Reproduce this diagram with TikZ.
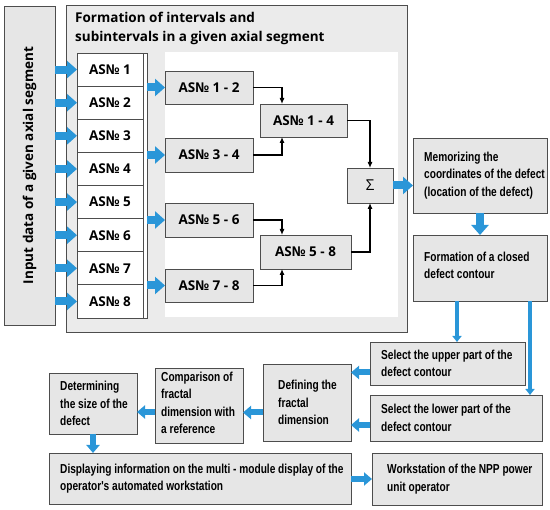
\documentclass[tikz,border=0pt]{standalone}
\usepackage{fontspec}
\setmainfont{Open Sans}
\newfontfamily\narrowfont{Liberation Sans}[FakeStretch=0.78]
\usetikzlibrary{positioning,arrows.meta,calc}
\definecolor{boxgray}{HTML}{E6E6E6}
\definecolor{panelgray}{HTML}{EBEBEB}
\definecolor{edge}{HTML}{4D4D4D}
\definecolor{flowblue}{HTML}{2A96D8}
\newcommand{\headfont}{\bfseries\fontsize{13.5}{19}\selectfont}
\newcommand{\notefont}{\narrowfont\bfseries\fontsize{13}{17.5}\selectfont}

\begin{document}
\begin{tikzpicture}[x=1pt, y=-1pt,
    box/.style={draw=edge, line width=0.9pt, fill=boxgray, inner sep=0pt, outer sep=0pt, anchor=north west},
    asbox/.style={box, fill=white, minimum width=66pt, minimum height=33.125pt, font=\headfont},
    pairbox/.style={box, font=\headfont},
    note/.style={font=\notefont, align=left, inner sep=0pt, anchor=west},
    flow/.style={draw=flowblue, line width=8pt, -{Triangle[length=10pt,width=17pt]}},
    smallflow/.style={draw=flowblue, line width=6pt, -{Triangle[length=8pt,width=13pt]}},
    thinflow/.style={draw=flowblue, line width=3.5pt, -{Triangle[length=6pt,width=9pt]}},
    conn/.style={draw=black, line width=1.1pt, -{Latex[length=6pt,width=5pt]}}
]
    \useasboundingbox (0,0) rectangle (550,510);

    % input column
    \node[box, minimum width=51pt, minimum height=319pt] (input) at (4,6) {};
    \node[rotate=90, font=\headfont] (inputtxt) at (input.center) {Input data of a given axial segment};

    % interval panel
    \node[box, fill=panelgray, minimum width=341pt, minimum height=327pt] (panel) at (66,5) {};
    \node[font=\headfont, align=left, inner sep=0pt, anchor=north west] (title) at (75,12)
        {Formation of intervals and\\subintervals in a given axial segment};
    \node[box, draw=none, fill=white, minimum width=233pt, minimum height=265pt] (inner) at (165,52) {};
    \node[box, fill=white, minimum width=70pt, minimum height=265pt] (col) at (77,53) {};

    \node[asbox] (as1) at (77,53) {AS№ 1};
    \node[asbox, below=0pt of as1] (as2) {AS№ 2};
    \node[asbox, below=0pt of as2] (as3) {AS№ 3};
    \node[asbox, below=0pt of as3] (as4) {AS№ 4};
    \node[asbox, below=0pt of as4] (as5) {AS№ 5};
    \node[asbox, below=0pt of as5] (as6) {AS№ 6};
    \node[asbox, below=0pt of as6] (as7) {AS№ 7};
    \node[asbox, below=0pt of as7] (as8) {AS№ 8};

    \node[pairbox, minimum width=88pt, minimum height=33pt] (p12) at (165,71) {AS№ 1 - 2};
    \node[pairbox, minimum width=88pt, minimum height=34pt] (p34) at (165,138) {AS№ 3 - 4};
    \node[pairbox, minimum width=88pt, minimum height=34pt] (p56) at (165,203) {AS№ 5 - 6};
    \node[pairbox, minimum width=88pt, minimum height=33pt] (p78) at (165,269) {AS№ 7 - 8};
    \node[pairbox, minimum width=87pt, minimum height=33pt] (q14) at (260,104) {AS№ 1 - 4};
    \node[pairbox, minimum width=91pt, minimum height=34pt] (q58) at (260,235) {AS№ 5 - 8};
    \node[box, minimum width=46pt, minimum height=35pt, font=\fontsize{15}{18}\selectfont] (sum) at (347,168) {Σ};

    % processing chain
    \node[box, minimum width=134pt, minimum height=75pt] (mem) at (413,138) {};
    \node[note] (memtxt) at ([xshift=11pt]mem.west)
        {Memorizing the\\coordinates of the defect\\(location of the defect)};
    \node[box, minimum width=134pt, minimum height=66pt] (form) at (413,235) {};
    \node[note] (formtxt) at ([xshift=11pt, yshift=2.5pt]form.west)
        {Formation of a closed\\defect contour};
    \node[box, minimum width=155pt, minimum height=43pt] (upper) at (370,342) {};
    \node[note] (uppertxt) at ([xshift=11pt]upper.west)
        {Select the upper part of the\\defect contour};
    \node[box, minimum width=172pt, minimum height=46pt] (lower) at (370,395) {};
    \node[note] (lowertxt) at ([xshift=11pt]lower.west)
        {Select the lower part of the\\defect contour};
    \node[box, minimum width=88pt, minimum height=77pt] (fractal) at (263,364) {};
    \node[note] (fractaltxt) at ([xshift=15pt]fractal.west)
        {Defining the\\fractal\\dimension};
    \node[box, minimum width=88pt, minimum height=75pt] (compare) at (155,368) {};
    \node[note] (comparetxt) at ([xshift=6pt, yshift=2.5pt]compare.west)
        {Comparison of\\fractal\\dimension with\\a reference};
    \node[box, minimum width=88pt, minimum height=61pt] (size) at (49,373) {};
    \node[note] (sizetxt) at ([xshift=11pt]size.west)
        {Determining\\the size of the\\defect};
    \node[box, minimum width=302pt, minimum height=51pt] (display) at (49,453) {};
    \node[note] (displaytxt) at ([xshift=11pt]display.west)
        {Displaying information on the multi - module display of the\\operator's automated workstation};
    \node[box, minimum width=170pt, minimum height=52pt] (station) at (372,453) {};
    \node[note] (stationtxt) at ([xshift=15pt]station.west)
        {Workstation of the NPP power\\unit operator};

    % blue flows
    \draw[flow] (input.east |- as1.west) -- (as1.west);
    \draw[flow] (input.east |- as2.west) -- (as2.west);
    \draw[flow] (input.east |- as3.west) -- (as3.west);
    \draw[flow] (input.east |- as4.west) -- (as4.west);
    \draw[flow] (input.east |- as5.west) -- (as5.west);
    \draw[flow] (input.east |- as6.west) -- (as6.west);
    \draw[flow] (input.east |- as7.west) -- (as7.west);
    \draw[flow] (input.east |- as8.west) -- (as8.west);
    \draw[flow] (col.east |- p12.west) -- (p12.west);
    \draw[flow] (col.east |- p34.west) -- (p34.west);
    \draw[flow] (col.east |- p56.west) -- (p56.west);
    \draw[flow] (col.east |- p78.west) -- (p78.west);
    \draw[flow] (sum.east) -- (sum.east -| mem.west);
    \draw[flow] (mem.south) -- (form.north);
    \draw[thinflow] ([xshift=-23pt]form.south) -- ([xshift=-23pt]form.south |- upper.north);
    \draw[thinflow] ([xshift=50pt]form.south) -- ([xshift=50pt]form.south |- lower.north);
    \draw[smallflow] ([yshift=-9pt]upper.west) -- ([yshift=-9pt]upper.west -| fractal.east);
    \draw[smallflow] ([yshift=-7pt]lower.west) -- ([yshift=-7pt]lower.west -| fractal.east);
    \draw[smallflow] ([yshift=-10pt]fractal.west) -- ([yshift=-10pt]fractal.west -| compare.east);
    \draw[smallflow] ([yshift=-6.5pt]compare.west) -- ([yshift=-6.5pt]compare.west -| size.east);
    \draw[smallflow] (size.south) -- (size.south |- display.north);
    \draw[smallflow] (display.east |- station.west) -- (station.west);

    % summation links
    \draw[conn] (p12.east) -| ([xshift=22pt]q14.north west);
    \draw[conn] (p34.east) -| ([xshift=22pt]q14.south west);
    \draw[conn] (p56.east) -| ([xshift=22pt]q58.north west);
    \draw[conn] (p78.east) -| ([xshift=22pt]q58.south west);
    \draw[conn] (q14.east) -| (sum.north);
    \draw[conn] (q58.east) -| (sum.south);
\end{tikzpicture}
\end{document}
